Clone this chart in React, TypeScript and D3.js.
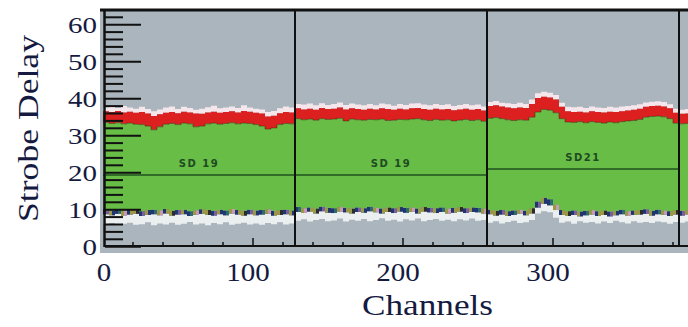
import React from "react";
import * as d3 from "d3";

// samples are 4 channels wide, channel 0 .. 391
const BIN = 4;

const redTop = [
  36.6, 36.4, 36.7, 36.3, 36.5, 36.2, 36.4, 36.0, 35.3, 35.8, 36.2, 36.4, 36.1, 36.5, 36.3, 36.0,
  35.9, 36.3, 36.5, 36.2, 36.4, 36.6, 36.3, 36.7, 36.5, 36.2, 36.0, 35.2, 35.4, 36.1, 36.4, 36.3,
  37.4, 37.1, 37.3, 37.0, 37.5, 37.2, 37.3, 37.6, 37.1, 37.4, 37.2, 37.0, 37.3, 37.1, 37.4, 37.2,
  37.0, 37.3, 37.1, 37.4, 37.5, 37.2, 37.0, 37.3, 37.1, 37.2, 36.9, 37.1, 37.3, 37.0, 37.2, 36.8,
  38.0, 38.2, 37.9, 37.6, 37.4, 37.6, 37.5, 38.6, 40.2, 40.5, 40.3, 39.8, 37.8, 36.6, 36.4, 36.5,
  36.3, 36.6, 36.4, 36.3, 36.5, 36.4, 36.6, 36.8, 37.0, 37.3, 37.8, 38.0, 38.1, 37.9, 37.4, 36.2,
  35.9, 36.0
];

const greenTop = [
  33.6, 33.3, 33.5, 33.2, 33.4, 33.1, 33.0, 32.6, 31.6, 32.4, 33.1, 33.3, 33.0, 33.4, 33.2, 32.4,
  32.6, 33.2, 33.4, 33.1, 33.3, 33.5, 33.2, 33.4, 33.3, 33.0, 32.6, 31.8, 32.1, 33.0, 33.3, 33.2,
  34.6, 34.3, 34.5, 34.2, 34.6, 34.4, 34.5, 34.7, 34.0, 34.5, 34.3, 34.2, 34.4, 34.3, 34.5, 34.1,
  34.2, 34.4, 34.3, 34.5, 34.6, 34.3, 34.1, 34.4, 34.2, 34.3, 34.0, 34.2, 34.4, 34.1, 34.3, 33.9,
  34.7, 34.9, 34.6, 34.3, 34.1, 34.3, 34.2, 35.0, 36.4, 37.1, 36.9, 36.2, 34.6, 33.7, 33.6, 33.8,
  33.5, 33.8, 33.6, 33.4, 33.7, 33.5, 33.8, 34.0, 34.1, 34.4, 35.0, 35.2, 35.3, 35.1, 34.6, 33.4,
  33.2, 33.3
];

const upperFringe = [
  37.6, 37.9, 37.5, 38.0, 37.6, 37.3, 37.8, 37.2, 36.6, 37.1, 37.6, 37.9, 37.2, 37.8, 37.5, 37.0,
  37.3, 37.7, 38.1, 37.4, 37.6, 37.9, 37.5, 38.2, 37.6, 37.3, 37.1, 36.4, 36.7, 37.4, 37.9, 37.6,
  38.6, 38.4, 38.7, 38.2, 38.8, 38.3, 38.6, 39.0, 38.3, 38.7, 38.4, 38.2, 38.6, 38.2, 38.7, 38.5,
  38.1, 38.6, 38.3, 38.7, 38.8, 38.4, 38.2, 38.6, 38.3, 38.5, 38.0, 38.3, 38.6, 38.2, 38.4, 37.9,
  39.1, 39.4, 38.9, 38.8, 38.6, 38.9, 38.6, 39.8, 41.5, 41.9, 41.6, 41.0, 38.9, 37.8, 37.7, 37.8,
  37.5, 37.9, 37.6, 37.5, 37.8, 37.6, 37.9, 38.0, 38.2, 38.5, 39.0, 39.2, 39.3, 39.1, 38.5, 37.3,
  37.0, 37.2
];

const greenBottom = [
  10.2, 9.8, 10.0, 9.7, 9.9, 10.1, 9.6, 9.9, 10.0, 9.8, 10.2, 9.7, 9.9, 10.0, 9.6, 9.8,
  10.1, 9.9, 9.7, 10.0, 9.8, 10.2, 9.9, 9.7, 10.0, 9.8, 9.9, 10.1, 9.7, 9.9, 10.0, 9.8,
  10.7, 10.4, 10.6, 10.3, 10.8, 10.5, 10.4, 10.7, 10.5, 10.3, 10.6, 10.4, 10.8, 10.5, 10.3, 10.6,
  10.4, 10.7, 10.5, 10.6, 10.3, 10.7, 10.5, 10.4, 10.6, 10.3, 10.5, 10.7, 10.4, 10.6, 10.5, 10.3,
  10.0, 9.7, 9.9, 9.6, 9.8, 10.0, 9.7, 10.4, 12.2, 13.2, 12.8, 11.4, 9.9, 9.6, 9.8, 9.5,
  9.7, 9.9, 9.6, 9.8, 9.5, 9.7, 10.0, 9.6, 9.8, 9.9, 10.1, 9.7, 10.0, 9.8, 9.6, 9.9,
  9.7, 9.9
];

const dotBottom = [
  8.8, 8.5, 8.9, 8.4, 8.7, 8.9, 8.3, 8.6, 8.8, 8.5, 9.0, 8.4, 8.7, 8.8, 8.3, 8.6,
  8.9, 8.6, 8.4, 8.8, 8.5, 9.0, 8.7, 8.4, 8.8, 8.5, 8.7, 8.9, 8.4, 8.6, 8.8, 8.5,
  9.4, 9.1, 9.5, 9.0, 9.6, 9.2, 9.1, 9.5, 9.3, 9.0, 9.4, 9.2, 9.6, 9.3, 9.0, 9.4,
  9.1, 9.5, 9.2, 9.4, 9.0, 9.5, 9.3, 9.1, 9.4, 9.0, 9.2, 9.5, 9.1, 9.4, 9.3, 9.0,
  8.8, 8.4, 8.7, 8.3, 8.6, 8.9, 8.5, 9.0, 10.6, 11.6, 11.2, 9.9, 8.6, 8.3, 8.6, 8.2,
  8.5, 8.7, 8.3, 8.6, 8.2, 8.5, 8.8, 8.4, 8.6, 8.7, 8.9, 8.4, 8.8, 8.6, 8.3, 8.7,
  8.4, 8.7
];

const lowerFringe = [
  6.0, 6.4, 5.8, 6.2, 6.5, 5.9, 6.1, 6.6, 5.8, 6.3, 6.0, 6.5, 5.9, 6.2, 6.7, 6.0,
  6.3, 5.8, 6.4, 6.1, 6.6, 5.9, 6.2, 6.5, 6.0, 6.3, 5.9, 6.4, 6.1, 6.6, 6.0, 6.3,
  7.0, 7.4, 6.8, 7.2, 7.5, 6.9, 7.1, 7.6, 6.8, 7.3, 7.0, 7.5, 6.9, 7.2, 7.7, 7.0,
  7.3, 6.8, 7.4, 7.1, 7.6, 6.9, 7.2, 7.5, 7.0, 7.3, 6.9, 7.4, 7.1, 7.6, 7.0, 7.2,
  6.5, 6.9, 6.3, 6.7, 7.0, 6.4, 6.6, 7.2, 9.0, 9.6, 9.3, 7.8, 6.5, 6.8, 6.2, 6.9,
  6.5, 6.7, 6.3, 6.8, 6.4, 7.0, 6.6, 6.3, 6.9, 6.5, 6.7, 6.4, 6.8, 6.6, 6.2, 6.7,
  6.5, 6.8
];

const panelStart = [0, 128, 256];
const panelEnd = [128, 256, 384];
const sdValue = [19.4, 19.4, 21];
const sdLabel = ["SD 19", "SD 19", "SD21"];

const yLabels = [0, 10, 20, 30, 40, 50, 60];
const xLabels = [0, 100, 200, 300];

const dotColors = ["#1f3570", "#7b5e9e", "#2b2b2b", "#9a9846", "#c79ab2", "#2e6a70"];

const W = 688;
const H = 327;
const serif = { fontFamily: "'Liberation Serif', 'Times New Roman', serif" };
const ink = "#151a40";

export default function App() {
  const x = d3.scaleLinear().domain([0, 384]).range([103, 679]);
  const y = d3.scaleLinear().domain([0, 64]).range([246.7, 9.9]);

  const rows = redTop.map((v, i) => ({
    c: i * BIN,
    red: v,
    gt: greenTop[i],
    uf: upperFringe[i],
    gb: greenBottom[i],
    db: dotBottom[i],
    lf: lowerFringe[i]
  }));
  rows.push({ ...rows[rows.length - 1], c: rows.length * BIN });

  const band = (lo: string, hi: string) =>
    d3
      .area<any>()
      .curve(d3.curveStepAfter)
      .x(d => x(d.c))
      .y0(d => y(d[lo]))
      .y1(d => y(d[hi]))(rows) as string;

  const topEdge = d3
    .line<any>()
    .curve(d3.curveStepAfter)
    .x(d => x(d.c))
    .y(d => y(d.gt))(rows) as string;

  const yTicks = d3.range(0, 63, 2);
  const xTicks = d3.range(20, 384, 20);

  return (
    <svg width={W} height={H} style={{ position: "absolute", left: 0, top: 0, background: "#fff" }}>
      <defs>
        <clipPath id="plot">
          <rect x={100} y={10} width={588} height={243} />
        </clipPath>
      </defs>
      <rect x={100} y={10} width={588} height={243} fill="#aab5bd" />

      <g clipPath="url(#plot)">
        <path d={band("red", "uf")} fill="#f4e6ea" />
        <path d={band("gt", "red")} fill="#dc1f1f" />
        <path d={band("lf", "db")} fill="#eceff0" />
        <path d={band("db", "gb")} fill="#6e6c8c" />
        {rows.slice(0, -1).map((d, i) => (
          <g key={i}>
            <rect x={x(d.c)} y={y(d.gb)} width={3} height={y(d.db) - y(d.gb)} fill={dotColors[(i * 3) % 6]} />
            <rect x={x(d.c) + 3} y={y(d.gb)} width={3} height={y(d.db) - y(d.gb)} fill={dotColors[(i * 5 + 1) % 6]} />
          </g>
        ))}
        <path d={band("gb", "gt")} fill="#67bd45" />
        <path d={topEdge} fill="none" stroke="#4a3010" strokeWidth={1} opacity={0.55} />

        {panelStart.map((s, i) => (
          <g key={i}>
            <line x1={x(s)} x2={x(panelEnd[i])} y1={y(sdValue[i])} y2={y(sdValue[i])} stroke="#1f5320" strokeWidth={1.5} />
            <text
              x={(x(s) + x(panelEnd[i])) / 2}
              y={y(sdValue[i]) - 8}
              textAnchor="middle"
              style={{ fontFamily: "'DejaVu Sans', sans-serif" }}
              fontWeight="bold"
              fontSize={10}
              letterSpacing={1.5}
              fill="#1f4a22"
            >
              {sdLabel[i]}
            </text>
          </g>
        ))}
      </g>

      {/* y ticks */}
      {yTicks.map(t => (
        <line
          key={t}
          x1={105}
          x2={t % 10 === 0 ? 141 : 123}
          y1={y(t)}
          y2={y(t)}
          stroke="#111"
          strokeWidth={2}
        />
      ))}
      {/* x ticks */}
      {xTicks.map(t => (
        <line key={t} x1={x(t)} x2={x(t)} y1={246} y2={t % 100 === 0 ? 238 : 242} stroke="#111" strokeWidth={1.5} />
      ))}

      {panelEnd.map(e => (
        <line key={e} x1={x(e)} x2={x(e)} y1={10} y2={246} stroke="#111" strokeWidth={2} />
      ))}

      <line x1={100} x2={688} y1={10} y2={10} stroke="#111" strokeWidth={3} />
      <line x1={104.5} x2={104.5} y1={10} y2={247} stroke="#111" strokeWidth={2.5} />
      <line x1={104} x2={688} y1={246} y2={246} stroke="#111" strokeWidth={2} />

      {yLabels.map(v => (
        <text
          key={v}
          x={97}
          y={y(v) + 8.5}
          textAnchor="end"
          style={serif}
          fontSize={24}
          fill={ink}
          textLength={String(v).length * 14.5}
          lengthAdjust="spacingAndGlyphs"
        >
          {v}
        </text>
      ))}
      {xLabels.map(v => (
        <text
          key={v}
          x={v === 0 ? x(v) + 1 : x(v) - 5}
          y={281}
          textAnchor="middle"
          style={serif}
          fontSize={25}
          fill={ink}
          textLength={String(v).length * 14.5}
          lengthAdjust="spacingAndGlyphs"
        >
          {v}
        </text>
      ))}

      <text
        transform="translate(38,128.5) rotate(-90)"
        textAnchor="middle"
        style={serif}
        fontSize={30}
        fill={ink}
        textLength={187}
        lengthAdjust="spacingAndGlyphs"
      >
        Strobe Delay
      </text>
      <text
        x={427.5}
        y={315}
        textAnchor="middle"
        style={serif}
        fontSize={30}
        fill={ink}
        textLength={131}
        lengthAdjust="spacingAndGlyphs"
      >
        Channels
      </text>
    </svg>
  );
}
